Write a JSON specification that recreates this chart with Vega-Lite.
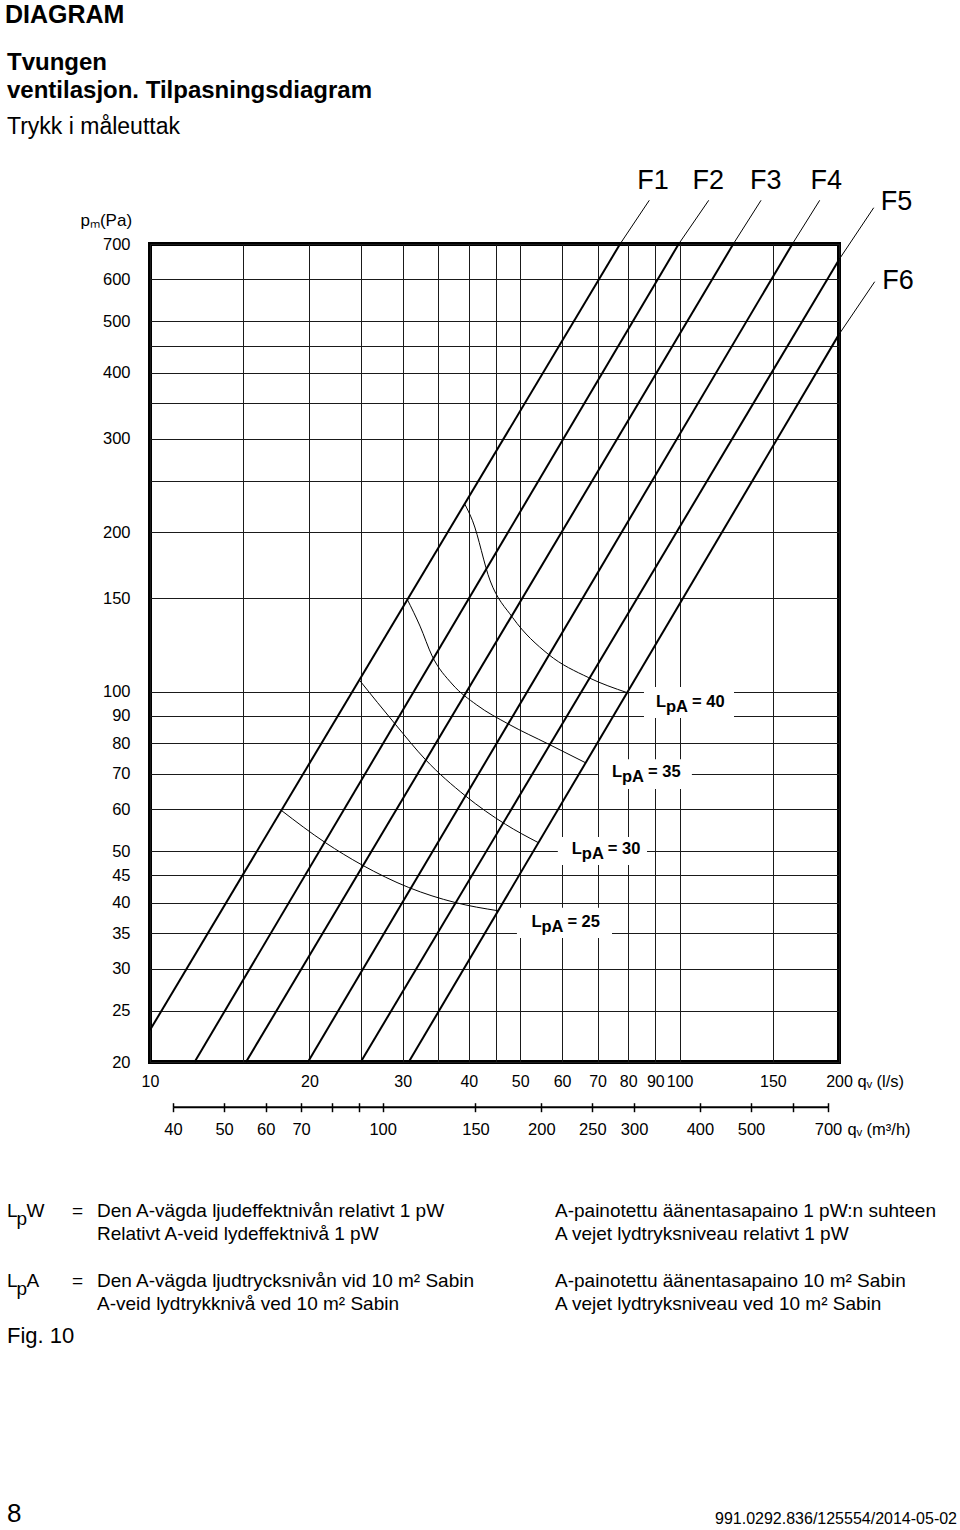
{
  "$schema": "https://vega.github.io/schema/vega-lite/v6.json",
  "background": "white",
  "padding": {"left": 5, "top": 2, "right": 0, "bottom": 0},
  "config": {
    "font": "Liberation Sans",
    "view": {"stroke": null},
    "title": {"color": "black"},
    "axis": {"labelColor": "black", "titleColor": "black"}
  },
  "title": {"text": "DIAGRAM", "anchor": "start", "frame": "bounds", "fontSize": 25, "fontWeight": "bold", "color": "black", "offset": 21.5},
  "datasets": {
    "fans": [
      {"fan": "F1", "q": 10, "p": 22.98}, {"fan": "F1", "q": 77.2, "p": 700},
      {"fan": "F2", "q": 12.14, "p": 20}, {"fan": "F2", "q": 99.6, "p": 700},
      {"fan": "F3", "q": 15.18, "p": 20}, {"fan": "F3", "q": 126.3, "p": 700},
      {"fan": "F4", "q": 19.87, "p": 20}, {"fan": "F4", "q": 163.3, "p": 700},
      {"fan": "F5", "q": 25.0, "p": 20}, {"fan": "F5", "q": 200, "p": 654},
      {"fan": "F6", "q": 30.8, "p": 20}, {"fan": "F6", "q": 200, "p": 472.6}
    ],
    "leaders": [
      {"fan": "F1", "q": 77.2, "p": 700}, {"fan": "F1", "q": 87.66, "p": 846.4},
      {"fan": "F2", "q": 99.6, "p": 700}, {"fan": "F2", "q": 113.5, "p": 846.4},
      {"fan": "F3", "q": 126.3, "p": 700}, {"fan": "F3", "q": 142.5, "p": 846.4},
      {"fan": "F4", "q": 163.3, "p": 700}, {"fan": "F4", "q": 183.9, "p": 846.4},
      {"fan": "F5", "q": 200, "p": 654}, {"fan": "F5", "q": 232.6, "p": 819.6},
      {"fan": "F6", "q": 200, "p": 472.6}, {"fan": "F6", "q": 233.6, "p": 594.2}
    ],
    "fanLabels": [
      {"fan": "F1", "q": 89.1, "p": 920.5}, {"fan": "F2", "q": 113.3, "p": 920.5},
      {"fan": "F3", "q": 145.4, "p": 920.5}, {"fan": "F4", "q": 189.2, "p": 920.5},
      {"fan": "F5", "q": 256.8, "p": 840}, {"fan": "F6", "q": 258.6, "p": 596}
    ],
    "lpaCurves": [
      {"lpa": 25, "q": 17.7, "p": 59.7}, {"lpa": 25, "q": 21.43, "p": 51.9}, {"lpa": 25, "q": 25.13, "p": 47.1},
      {"lpa": 25, "q": 30.8, "p": 42.7}, {"lpa": 25, "q": 37.7, "p": 40.0}, {"lpa": 25, "q": 45.4, "p": 38.6},
      {"lpa": 30, "q": 24.85, "p": 105.2}, {"lpa": 30, "q": 29.06, "p": 86.8}, {"lpa": 30, "q": 33.1, "p": 74.5},
      {"lpa": 30, "q": 39.4, "p": 63.6}, {"lpa": 30, "q": 46.9, "p": 56.2}, {"lpa": 30, "q": 54.1, "p": 51.9},
      {"lpa": 35, "q": 30.6, "p": 149.4}, {"lpa": 35, "q": 32.35, "p": 133}, {"lpa": 35, "q": 34.1, "p": 116.8},
      {"lpa": 35, "q": 37.2, "p": 103.4}, {"lpa": 35, "q": 41.4, "p": 94.4}, {"lpa": 35, "q": 47.6, "p": 86.8},
      {"lpa": 35, "q": 56.6, "p": 79.6}, {"lpa": 35, "q": 66.5, "p": 73.4},
      {"lpa": 40, "q": 39.3, "p": 226}, {"lpa": 40, "q": 40.65, "p": 210.2}, {"lpa": 40, "q": 43.9, "p": 161.8},
      {"lpa": 40, "q": 48.4, "p": 138}, {"lpa": 40, "q": 56.55, "p": 117.6}, {"lpa": 40, "q": 67.35, "p": 106.3},
      {"lpa": 40, "q": 79.6, "p": 99.6}
    ],
    "lpaLabels": [
      {"lpa": 25, "q": 52.5, "p": 36.8, "q1": 49.3, "q2": 74.55, "p1": 34.3, "p2": 39.1},
      {"lpa": 30, "q": 62.6, "p": 50.4, "q1": 58.9, "q2": 86.8, "p1": 47.1, "p2": 53.2},
      {"lpa": 35, "q": 74.55, "p": 70.5, "q1": 70.44, "q2": 105.5, "p1": 65.5, "p2": 74.6},
      {"lpa": 40, "q": 90.25, "p": 95.6, "q1": 85.66, "q2": 126.7, "p1": 89.2, "p2": 102.1}
    ],
    "m3hAxis": [{"m3h": 40}, {"m3h": 700}],
    "glossary": [
      {"row": 1, "col": "sv/no", "text": "Den A-vägda ljudeffektnivån relativt 1 pW"},
      {"row": 2, "col": "sv/no", "text": "Relativt A-veid lydeffektnivå 1 pW"},
      {"row": 1, "col": "fi/da", "text": "A-painotettu äänentasapaino 1 pW:n suhteen"},
      {"row": 2, "col": "fi/da", "text": "A vejet lydtryksniveau relativt 1 pW"},
      {"row": 4, "col": "sv/no", "text": "Den A-vägda ljudtrycksnivån vid 10 m² Sabin"},
      {"row": 5, "col": "sv/no", "text": "A-veid lydtrykknivå ved 10 m² Sabin"},
      {"row": 4, "col": "fi/da", "text": "A-painotettu äänentasapaino 10 m² Sabin"},
      {"row": 5, "col": "fi/da", "text": "A vejet lydtryksniveau ved 10 m² Sabin"}
    ],
    "terms": [
      {"row": 1, "sym": "L", "sub": "p", "tail": "W"},
      {"row": 4, "sym": "L", "sub": "p", "tail": "A"}
    ],
    "caption": [{"row": 6, "text": "Fig. 10"}],
    "pageNumber": [{"row": 14, "text": "8"}],
    "docCode": [{"row": 14, "text": "991.0292.836/125554/2014-05-02"}]
  },
  "spacing": 61,
  "vconcat": [
    {
      "width": 689,
      "height": 818,
      "view": {"stroke": "black", "strokeWidth": 4},
      "title": {
        "text": ["Tvungen", "ventilasjon. Tilpasningsdiagram"],
        "subtitle": "Trykk i måleuttak",
        "anchor": "start", "frame": "group", "dx": -143,
        "fontSize": 24, "fontWeight": "bold", "lineHeight": 28.3, "color": "black",
        "subtitleFontSize": 23, "subtitleFontWeight": "normal", "subtitleColor": "black",
        "subtitlePadding": 12.5, "offset": 28
      },
      "resolve": {"scale": {"x": "independent"}, "axis": {"x": "independent"}},
      "layer": [
        {
          "data": {"name": "fans"},
          "mark": {"type": "line", "color": "black", "strokeWidth": 2, "clip": false},
          "encoding": {
            "x": {
              "field": "q", "type": "quantitative",
              "scale": {"type": "log", "domain": [10, 200], "nice": false},
              "axis": {
                "orient": "bottom",
                "values": [10, 15, 20, 25, 30, 35, 40, 45, 50, 60, 70, 80, 90, 100, 150, 200],
                "labelExpr": "indexof([15, 25, 35, 45], datum.value) >= 0 ? '' : format(datum.value, 'd')",
                "grid": true, "gridColor": "#1a1a1a", "gridWidth": 1, "gridOpacity": 1,
                "domain": false, "ticks": false, "tickSize": 0,
                "labelPadding": 11, "labelFontSize": 16, "labelColor": "black",
                "labelFlush": false, "labelOverlap": false, "labelBound": false,
                "title": "qᵥ (l/s)", "titleX": 707, "titleY": 19, "titleAlign": "left", "titleBaseline": "middle",
                "titleFontSize": 16.5, "titleFontWeight": "normal", "titleColor": "black"
              }
            },
            "y": {
              "field": "p", "type": "quantitative",
              "scale": {"type": "log", "domain": [20, 700], "nice": false},
              "axis": {
                "orient": "left",
                "values": [20, 25, 30, 35, 40, 45, 50, 60, 70, 80, 90, 100, 150, 200, 250, 300, 350, 400, 450, 500, 600, 700],
                "labelExpr": "indexof([250, 350, 450], datum.value) >= 0 ? '' : format(datum.value, 'd')",
                "grid": true, "gridColor": "#1a1a1a", "gridWidth": 1, "gridOpacity": 1,
                "domain": false, "ticks": false, "tickSize": 0,
                "labelPadding": 20, "labelFontSize": 16.5, "labelColor": "black",
                "labelFlush": false, "labelOverlap": false, "labelBound": false,
                "title": "pₘ(Pa)", "titleAngle": 0, "titleX": -70, "titleY": -24,
                "titleAlign": "left", "titleBaseline": "middle",
                "titleFontSize": 17, "titleFontWeight": "normal", "titleColor": "black"
              }
            },
            "detail": {"field": "fan", "type": "nominal"}
          }
        },
        {
          "data": {"name": "lpaLabels"},
          "mark": {"type": "rect", "fill": "white", "clip": false},
          "encoding": {
            "x": {"field": "q1", "type": "quantitative", "scale": {"type": "log", "domain": [10, 200], "nice": false}, "axis": null},
            "x2": {"field": "q2"},
            "y": {"field": "p1", "type": "quantitative", "scale": {"type": "log", "domain": [20, 700], "nice": false}},
            "y2": {"field": "p2"}
          }
        },
        {
          "data": {"name": "leaders"},
          "mark": {"type": "line", "color": "black", "strokeWidth": 1, "clip": false},
          "encoding": {
            "x": {"field": "q", "type": "quantitative", "scale": {"type": "log", "domain": [10, 200], "nice": false}, "axis": null},
            "y": {"field": "p", "type": "quantitative", "scale": {"type": "log", "domain": [20, 700], "nice": false}},
            "detail": {"field": "fan", "type": "nominal"}
          }
        },
        {
          "data": {"name": "lpaCurves"},
          "mark": {"type": "line", "color": "black", "strokeWidth": 1, "interpolate": "monotone", "clip": false},
          "encoding": {
            "x": {"field": "q", "type": "quantitative", "scale": {"type": "log", "domain": [10, 200], "nice": false}, "axis": null},
            "y": {"field": "p", "type": "quantitative", "scale": {"type": "log", "domain": [20, 700], "nice": false}},
            "detail": {"field": "lpa", "type": "nominal"}
          }
        },
        {
          "data": {"name": "fanLabels"},
          "mark": {"type": "text", "fontSize": 27, "align": "center", "baseline": "middle", "color": "black", "clip": false},
          "encoding": {
            "x": {"field": "q", "type": "quantitative", "scale": {"type": "log", "domain": [10, 200], "nice": false}, "axis": null},
            "y": {"field": "p", "type": "quantitative", "scale": {"type": "log", "domain": [20, 700], "nice": false}},
            "text": {"field": "fan", "type": "nominal"}
          }
        },
        {
          "data": {"name": "lpaLabels"},
          "mark": {"type": "text", "text": "L", "fontSize": 16.5, "fontWeight": "bold", "align": "left", "baseline": "middle", "color": "black", "clip": false},
          "encoding": {
            "x": {"field": "q", "type": "quantitative", "scale": {"type": "log", "domain": [10, 200], "nice": false}, "axis": null},
            "y": {"field": "p", "type": "quantitative", "scale": {"type": "log", "domain": [20, 700], "nice": false}}
          }
        },
        {
          "data": {"name": "lpaLabels"},
          "mark": {"type": "text", "text": "pA", "fontSize": 16.5, "fontWeight": "bold", "align": "left", "baseline": "middle", "dx": 10, "dy": 5, "color": "black", "clip": false},
          "encoding": {
            "x": {"field": "q", "type": "quantitative", "scale": {"type": "log", "domain": [10, 200], "nice": false}, "axis": null},
            "y": {"field": "p", "type": "quantitative", "scale": {"type": "log", "domain": [20, 700], "nice": false}}
          }
        },
        {
          "data": {"name": "lpaLabels"},
          "transform": [{"calculate": "'= ' + datum.lpa", "as": "eq"}],
          "mark": {"type": "text", "fontSize": 16.5, "fontWeight": "bold", "align": "left", "baseline": "middle", "dx": 36, "color": "black", "clip": false},
          "encoding": {
            "x": {"field": "q", "type": "quantitative", "scale": {"type": "log", "domain": [10, 200], "nice": false}, "axis": null},
            "y": {"field": "p", "type": "quantitative", "scale": {"type": "log", "domain": [20, 700], "nice": false}},
            "text": {"field": "eq", "type": "nominal"}
          }
        },
        {
          "data": {"name": "m3hAxis"},
          "mark": {"type": "point", "opacity": 0},
          "encoding": {
            "x": {
              "field": "m3h", "type": "quantitative",
              "scale": {"type": "log", "domain": [40, 700], "range": [23, 678], "nice": false},
              "axis": {
                "orient": "bottom", "offset": 44.7,
                "values": [40, 50, 60, 70, 80, 90, 100, 150, 200, 250, 300, 400, 500, 600, 700],
                "labelExpr": "indexof([80, 90, 600], datum.value) >= 0 ? '' : format(datum.value, 'd')",
                "domain": false, "ticks": true, "tickSize": 5, "tickWidth": 1.5, "tickColor": "black",
                "grid": false, "labelPadding": 10, "labelFontSize": 16.5, "labelColor": "black",
                "labelFlush": false, "labelOverlap": false, "labelBound": false,
                "title": "qᵥ (m³/h)", "titleX": 697, "titleY": 22.3, "titleAlign": "left", "titleBaseline": "middle",
                "titleFontSize": 16.5, "titleFontWeight": "normal", "titleColor": "black"
              }
            },
            "y": {"datum": 100, "type": "quantitative", "scale": {"type": "log", "domain": [20, 700], "nice": false}}
          }
        },
        {
          "data": {"name": "m3hAxis"},
          "mark": {"type": "point", "opacity": 0},
          "encoding": {
            "x": {
              "field": "m3h", "type": "quantitative",
              "scale": {"type": "log", "domain": [40, 700], "range": [23, 678], "nice": false},
              "axis": {
                "orient": "bottom", "offset": 44.7,
                "values": [40, 50, 60, 70, 80, 90, 100, 150, 200, 250, 300, 400, 500, 600, 700],
                "domain": true, "domainColor": "black", "domainWidth": 2,
                "ticks": true, "tickSize": -4, "tickWidth": 1.5, "tickColor": "black",
                "labels": false, "grid": false, "title": null
              }
            },
            "y": {"datum": 100, "type": "quantitative", "scale": {"type": "log", "domain": [20, 700], "nice": false}}
          }
        }
      ]
    },
    {
      "width": 460,
      "height": 303.3,
      "view": {"stroke": null},
      "layer": [
        {
          "data": {"name": "glossary"},
          "mark": {"type": "text", "align": "left", "baseline": "middle", "fontSize": 19, "color": "black"},
          "encoding": {
            "x": {"field": "col", "type": "nominal", "scale": {"type": "point", "domain": ["sv/no", "fi/da"], "range": [-53, 405], "padding": 0}, "axis": null},
            "y": {"field": "row", "type": "ordinal", "scale": {"type": "point", "domain": [1, 2, 3, 4, 5, 6, 7, 8, 9, 10, 11, 12, 13, 14], "padding": 0}, "axis": null},
            "text": {"field": "text", "type": "nominal"}
          }
        },
        {
          "data": {"name": "terms"},
          "mark": {"type": "text", "align": "left", "baseline": "middle", "fontSize": 19, "dx": -90, "color": "black"},
          "encoding": {
            "x": {"datum": "sv/no", "type": "nominal"},
            "y": {"field": "row", "type": "ordinal"},
            "text": {"field": "sym", "type": "nominal"}
          }
        },
        {
          "data": {"name": "terms"},
          "mark": {"type": "text", "align": "left", "baseline": "middle", "fontSize": 19, "dx": -80.5, "dy": 8, "color": "black"},
          "encoding": {
            "x": {"datum": "sv/no", "type": "nominal"},
            "y": {"field": "row", "type": "ordinal"},
            "text": {"field": "sub", "type": "nominal"}
          }
        },
        {
          "data": {"name": "terms"},
          "mark": {"type": "text", "align": "left", "baseline": "middle", "fontSize": 19, "dx": -70.5, "color": "black"},
          "encoding": {
            "x": {"datum": "sv/no", "type": "nominal"},
            "y": {"field": "row", "type": "ordinal"},
            "text": {"field": "tail", "type": "nominal"}
          }
        },
        {
          "data": {"name": "terms"},
          "mark": {"type": "text", "text": "=", "align": "left", "baseline": "middle", "fontSize": 19, "dx": -25, "color": "black"},
          "encoding": {
            "x": {"datum": "sv/no", "type": "nominal"},
            "y": {"field": "row", "type": "ordinal"}
          }
        },
        {
          "data": {"name": "caption"},
          "mark": {"type": "text", "align": "left", "baseline": "middle", "fontSize": 22, "dx": -90, "dy": 8.5, "color": "black"},
          "encoding": {
            "x": {"datum": "sv/no", "type": "nominal"},
            "y": {"field": "row", "type": "ordinal"},
            "text": {"field": "text", "type": "nominal"}
          }
        },
        {
          "data": {"name": "pageNumber"},
          "mark": {"type": "text", "align": "left", "baseline": "middle", "fontSize": 26, "dx": -90, "color": "black"},
          "encoding": {
            "x": {"datum": "sv/no", "type": "nominal"},
            "y": {"field": "row", "type": "ordinal"},
            "text": {"field": "text", "type": "nominal"}
          }
        },
        {
          "data": {"name": "docCode"},
          "mark": {"type": "text", "align": "right", "baseline": "middle", "fontSize": 16, "dx": 402, "dy": 5, "color": "black"},
          "encoding": {
            "x": {"datum": "fi/da", "type": "nominal"},
            "y": {"field": "row", "type": "ordinal"},
            "text": {"field": "text", "type": "nominal"}
          }
        }
      ]
    }
  ]
}
